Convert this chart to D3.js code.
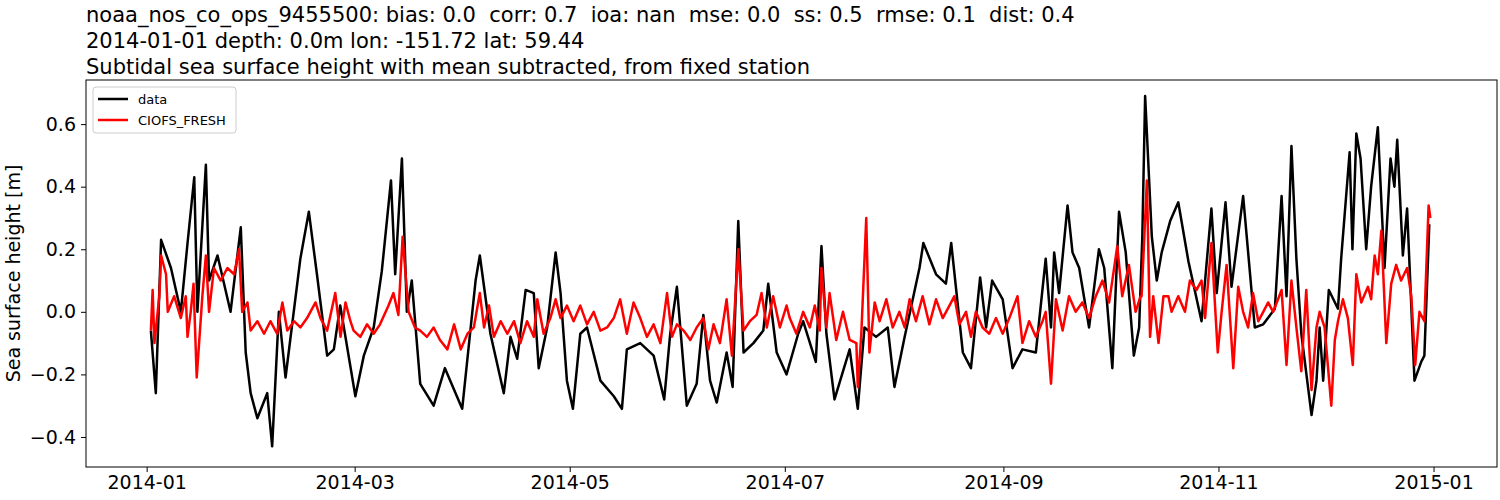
<!DOCTYPE html>
<html lang="en">
<head>
<meta charset="UTF-8">
<title>Sea surface height</title>
<script src="https://d3js.org/d3.v7.min.js"></script>
<style>
    body { margin: 0; background: #fff; }
    svg { font-family: "DejaVu Sans", sans-serif; }
    .axis text { font-size: 19px; fill: #000; font-family: "DejaVu Sans", sans-serif; }
    .axis path, .axis line { stroke: #000; stroke-width: 1px; }
    .title { font-size: 21px; fill: #000; white-space: pre; }
</style>
</head>
<body>
<svg width="1500" height="500"></svg>
<script>
    // days since 2014-01-01 and values (m)
    const dataDays = [1.2,2.6,4.1,6.9,9.7,11.6,13.5,14.4,16.8,17.7,20.1,23.8,26.7,28.1,29.5,31.4,34.2,35.6,37.5,39.4,43.6,46,48.3,51.2,53.1,54.9,59.2,61.6,64.4,66.7,69.3,70.5,72.4,73.8,75.2,77.6,81.4,84.6,
        89.5,93.3,94.5,97.5,101.3,103.2,105.1,107.5,109.8,111.2,113.6,116,117.4,119.2,120.9,123,124.9,128.7,132.5,134.8,136.2,140,143.8,146.8,148.5,150.4,153.2,156,157.9,159.8,161.7,164.5,166.2,167.8,169.3,172.1,174.9,176.3,178.7,181.5,184.8,
        186.2,189.8,191.4,192.8,195.1,197.5,199.4,201.7,203.6,206.9,210.2,212.1,215,219.2,220.3,223.9,226.7,228.2,231.5,233.8,236.4,238.1,239.8,242.8,245.6,248.4,252.2,255,256.5,257.4,258.8,261.2,262.6,264.5,267.3,270.1,271.6,273.9,275.8,277.7,280,281.5,282.4,
        283.2,285.1,286.5,287.9,290.3,292.6,295.5,299.2,302,303.5,306,307.7,311,314.3,316.7,320,321.9,323.3,324.7,326.1,327.5,330.4,331.8,332.7,333.7,335.3,337.9,338.8,341.2,342,343.1,344.3,345.9,347.3,349.2,351.1,352.8,353.9,354.7,356.3,357.5,359.6,361.5,362.4,363.8];
    const dataVals = [-0.06,-0.26,0.23,0.14,0.0,0.22,0.43,0.0,0.47,0.1,0.18,0.0,0.27,-0.13,-0.26,-0.34,-0.26,-0.43,0.0,-0.21,0.17,0.32,0.12,-0.14,-0.12,0.02,-0.27,-0.14,-0.05,0.13,0.42,0.12,0.49,0.0,0.1,-0.23,-0.3,-0.18,
        -0.31,0.1,0.18,-0.07,-0.26,-0.08,-0.15,0.07,0.06,-0.18,-0.05,0.19,0.06,-0.22,-0.31,-0.07,-0.05,-0.22,-0.27,-0.31,-0.12,-0.1,-0.14,-0.28,-0.07,0.08,-0.3,-0.23,-0.01,-0.22,-0.29,-0.13,-0.24,0.29,-0.13,-0.1,-0.06,0.09,-0.13,-0.2,-0.07,
        -0.03,-0.16,0.21,-0.07,-0.28,-0.19,-0.12,-0.31,-0.05,-0.08,-0.05,-0.24,-0.08,0.14,0.22,0.12,0.09,0.22,-0.13,-0.18,0.11,-0.05,0.1,0.04,-0.18,-0.12,-0.13,0.17,-0.05,0.19,0.06,0.34,0.19,0.14,-0.05,0.2,0.14,-0.18,0.32,0.19,-0.14,-0.05,0.24,
        0.69,0.24,0.1,0.19,0.29,0.35,0.16,-0.03,0.33,0.06,0.35,0.08,0.37,-0.05,-0.04,0.01,0.37,0.05,0.53,0.17,-0.07,-0.33,-0.22,-0.05,-0.22,0.07,0.01,0.17,0.51,0.2,0.57,0.49,0.2,0.4,0.59,0.14,0.49,0.4,0.55,0.18,0.33,-0.22,-0.16,-0.14,0.28];

    const modelDays = [1.2,1.7,2.2,3.6,4.1,5.5,6,7.8,9.7,11.1,11.6,12.5,13.3,14.2,15.8,16.8,17.7,19.1,21,22.9,24.8,26.2,27.1,28.6,29.5,31.4,33.3,35.1,37,38.5,39.9,41.8,43.6,45.5,47.9,49.3,51.2,53.5,55,56.4,57.8,58.7,60.6,62.5,64.4,66.2,68.6,70,71.4,72.6,74.3,76.1,77.6,79.5,81.4,83.2,
        85.3,87.2,89.1,91,92.8,94.5,95.7,97.1,98.5,100.4,102.3,104.2,106,107.9,109.8,110.8,112.6,114.5,116,117.4,119.2,121.1,123,124.9,126.8,128.7,130.6,132.5,134.3,136.2,138.1,140,141.9,143.8,145.7,147.6,149,150.4,152.3,154.2,156,157.9,159.3,160.8,162.6,164.5,166,167.8,169.3,171.1,173,174.4,175.9,177.7,179.6,181.5,
        182.4,184.3,186.2,188.1,189.5,190.9,191.4,192.8,193.7,195.6,197.5,199.4,201.3,201.7,202.7,204.1,205,206.5,207.9,209.8,211.6,213.5,215,216.4,218.2,220.1,222,223.9,225.8,227.7,229.1,230.5,232.4,233.8,235.2,237.1,239,240.9,242.8,244.7,247,248.4,250.3,252.2,254.1,255,256.5,257.9,259.8,261.6,263.5,265.4,267.3,269.2,271.1,273,275.3,276.7,278.6,280.5,281.9,
        282.2,283.7,284.6,285.5,287,288.4,289.8,290.7,292.6,294.5,295.9,297.8,299.2,300.2,302,303.8,304.9,306.3,308.2,309.6,311,312.4,313.8,315.3,316.7,318.1,319.5,320.9,321.9,323.3,324.7,326.1,327.5,328.9,330.4,331.8,332.7,334.1,336,337,337.9,339.3,340.7,342.1,343.1,344.5,346.4,347.3,348.3,349.2,350.2,351.6,353,354.4,355.8,357.5,358.7,359.8,361,362.4,363.6,364.1];
    const modelVals = [-0.06,0.07,-0.1,0.05,0.18,0.12,0.0,0.05,-0.02,0.05,-0.08,0.0,0.09,-0.21,0.05,0.18,0.0,0.14,0.1,0.14,0.12,0.2,0.0,0.03,-0.06,-0.03,-0.07,-0.03,-0.07,0.03,-0.06,-0.03,-0.05,-0.02,0.03,-0.02,-0.06,0.06,-0.08,0.03,-0.03,-0.06,-0.08,-0.04,-0.07,-0.04,0.02,0.06,-0.01,0.24,0.0,-0.05,-0.06,-0.08,-0.05,-0.09,
        -0.12,-0.04,-0.12,-0.07,-0.05,0.06,-0.05,0.02,-0.08,-0.03,-0.07,-0.03,-0.1,-0.03,-0.08,0.04,-0.07,-0.02,0.04,-0.02,0.02,-0.03,0.02,-0.04,0.0,-0.06,-0.05,-0.02,0.04,-0.07,0.03,-0.02,-0.08,-0.04,-0.1,0.06,-0.08,-0.04,-0.06,-0.09,-0.05,-0.02,-0.12,-0.04,-0.1,0.04,-0.14,0.2,-0.06,-0.03,-0.01,0.06,-0.05,0.05,-0.05,0.02,
        -0.02,-0.07,0.0,-0.05,0.02,-0.06,0.14,-0.05,0.06,-0.09,0.0,-0.09,-0.1,-0.24,-0.07,0.3,-0.13,0.03,-0.03,0.04,-0.05,0.0,-0.05,0.04,-0.03,0.05,-0.04,0.04,-0.02,0.02,0.05,-0.04,0.0,-0.08,0.0,-0.05,-0.07,-0.02,-0.07,-0.02,0.05,-0.1,-0.03,-0.08,-0.03,0.0,-0.23,0.04,-0.06,0.05,0.0,0.03,-0.02,0.05,0.1,0.03,0.21,0.05,0.15,0.0,0.05,
        0.05,0.42,-0.08,0.05,-0.1,0.05,0.05,0.0,0.05,0.0,0.1,0.07,0.1,-0.02,0.22,-0.13,0.0,0.15,-0.18,0.08,0.0,-0.05,0.06,-0.03,0.0,0.03,0.0,0.04,0.07,-0.17,0.1,-0.05,-0.19,0.07,-0.25,-0.05,0.0,-0.05,-0.3,-0.09,-0.03,0.04,-0.02,-0.17,0.12,0.03,0.08,0.04,0.18,0.12,0.26,-0.1,0.09,0.15,0.1,0.14,0.05,-0.17,0.0,-0.03,0.34,0.3];

    const yTicks = [-0.4, -0.2, 0.0, 0.2, 0.4, 0.6];
    const xTickDates = ['2014-01-01', '2014-03-01', '2014-05-01', '2014-07-01', '2014-09-01', '2014-11-01', '2015-01-01'];
    const titleLines = [
        'noaa_nos_co_ops_9455500: bias: 0.0  corr: 0.7  ioa: nan  mse: 0.0  ss: 0.5  rmse: 0.1  dist: 0.4',
        '2014-01-01 depth: 0.0m lon: -151.72 lat: 59.44',
        'Subtidal sea surface height with mean subtracted, from fixed station'
    ];

    const t0 = Date.UTC(2014, 0, 1);
    const toDate = d => new Date(t0 + d * 86400000);

    const svg = d3.select('svg');
    const m = { left: 86, right: 1497, top: 80, bottom: 467 };

    const x = d3.scaleUtc()
        .domain([toDate(-17.2), toDate(383)])
        .range([m.left, m.right]);
    const y = d3.scaleLinear()
        .domain([-0.496, 0.741])
        .range([m.bottom, m.top]);

    // axes
    svg.append('g')
        .attr('class', 'axis')
        .attr('transform', `translate(0,${m.bottom})`)
        .call(d3.axisBottom(x)
            .tickValues(xTickDates.map(s => new Date(s + 'T00:00:00Z')))
            .tickFormat(d3.utcFormat('%Y-%m'))
            .tickSizeOuter(0).tickSize(5).tickPadding(4));

    svg.append('g')
        .attr('class', 'axis')
        .attr('transform', `translate(${m.left},0)`)
        .call(d3.axisLeft(y)
            .tickValues(yTicks)
            .tickFormat(d => d3.format('.1f')(d).replace('-', '\u2212'))
            .tickSizeOuter(0).tickSize(5).tickPadding(5));

    svg.selectAll('.axis .domain').remove();
    svg.append('rect')
        .attr('x', m.left).attr('y', m.top)
        .attr('width', m.right - m.left).attr('height', m.bottom - m.top)
        .attr('fill', 'none').attr('stroke', '#000');

    const line = d3.line()
        .x(d => x(toDate(d[0])))
        .y(d => y(d[1]));

    svg.append('path')
        .datum(dataDays.map((d, i) => [d, dataVals[i]]))
        .attr('d', line)
        .attr('fill', 'none').attr('stroke', '#000').attr('stroke-width', 2.5)
        .attr('stroke-linejoin', 'round');

    svg.append('path')
        .datum(modelDays.map((d, i) => [d, modelVals[i]]))
        .attr('d', line)
        .attr('fill', 'none').attr('stroke', '#ff0000').attr('stroke-width', 2.5)
        .attr('stroke-linejoin', 'round');

    // titles and label
    svg.selectAll('.title')
        .data(titleLines)
        .join('text')
        .attr('class', 'title')
        .attr('x', 86)
        .attr('y', (d, i) => 22 + i * 26)
        .text(d => d);

    svg.append('text')
        .attr('transform', `translate(20,${(m.top + m.bottom) / 2}) rotate(-90)`)
        .attr('text-anchor', 'middle')
        .style('font-size', '19px')
        .text('Sea surface height [m]');

    // legend
    const legend = svg.append('g').attr('transform', 'translate(93,87)');
    legend.append('rect')
        .attr('width', 143).attr('height', 46).attr('rx', 3)
        .attr('fill', '#fff').attr('fill-opacity', 0.8).attr('stroke', '#ccc');
    [['data', '#000'], ['CIOFS_FRESH', '#ff0000']].forEach(([name, c], i) => {
        legend.append('line')
            .attr('x1', 5).attr('x2', 35)
            .attr('y1', 12 + i * 21).attr('y2', 12 + i * 21)
            .attr('stroke', c).attr('stroke-width', 2.5);
        legend.append('text')
            .attr('x', 45).attr('y', 17 + i * 21)
            .style('font-size', '13px')
            .text(name);
    });
</script>
</body>
</html>
